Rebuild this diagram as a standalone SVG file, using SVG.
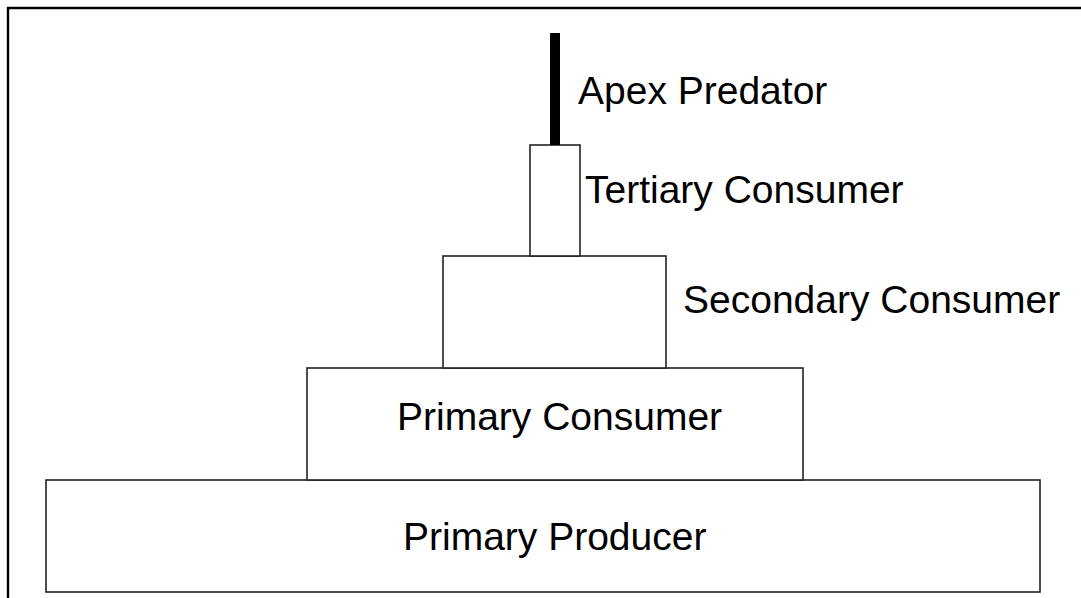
<svg xmlns="http://www.w3.org/2000/svg" width="1081" height="598" viewBox="0 0 1081 598">
  <style>
    .box { fill: #ffffff; stroke: #222222; stroke-width: 1.6; }
    .lbl { font-family: "Liberation Sans", Arial, sans-serif; font-size: 39px; fill: #000000; }
  </style>
  <rect x="0" y="0" width="1081" height="598" fill="#ffffff"/>
  <path d="M8 600 V8 H1085" fill="none" stroke="#000000" stroke-width="2.4"/>
  <g id="primary-producer">
    <rect class="box" x="46" y="480" width="994" height="112"/>
    <text class="lbl" x="403" y="550">Primary Producer</text>
  </g>
  <g id="primary-consumer">
    <rect class="box" x="307" y="368" width="496" height="112"/>
    <text class="lbl" x="397" y="430">Primary Consumer</text>
  </g>
  <g id="secondary-consumer">
    <rect class="box" x="443" y="256" width="223" height="112"/>
    <text class="lbl" x="683" y="313">Secondary Consumer</text>
  </g>
  <g id="tertiary-consumer">
    <rect class="box" x="530" y="145" width="50" height="111"/>
    <text class="lbl" x="585" y="203">Tertiary Consumer</text>
  </g>
  <g id="apex-predator">
    <rect x="550" y="33" width="10" height="112" fill="#000000"/>
    <text class="lbl" x="578" y="104">Apex Predator</text>
  </g>
  <g id="connectors"></g>
</svg>
